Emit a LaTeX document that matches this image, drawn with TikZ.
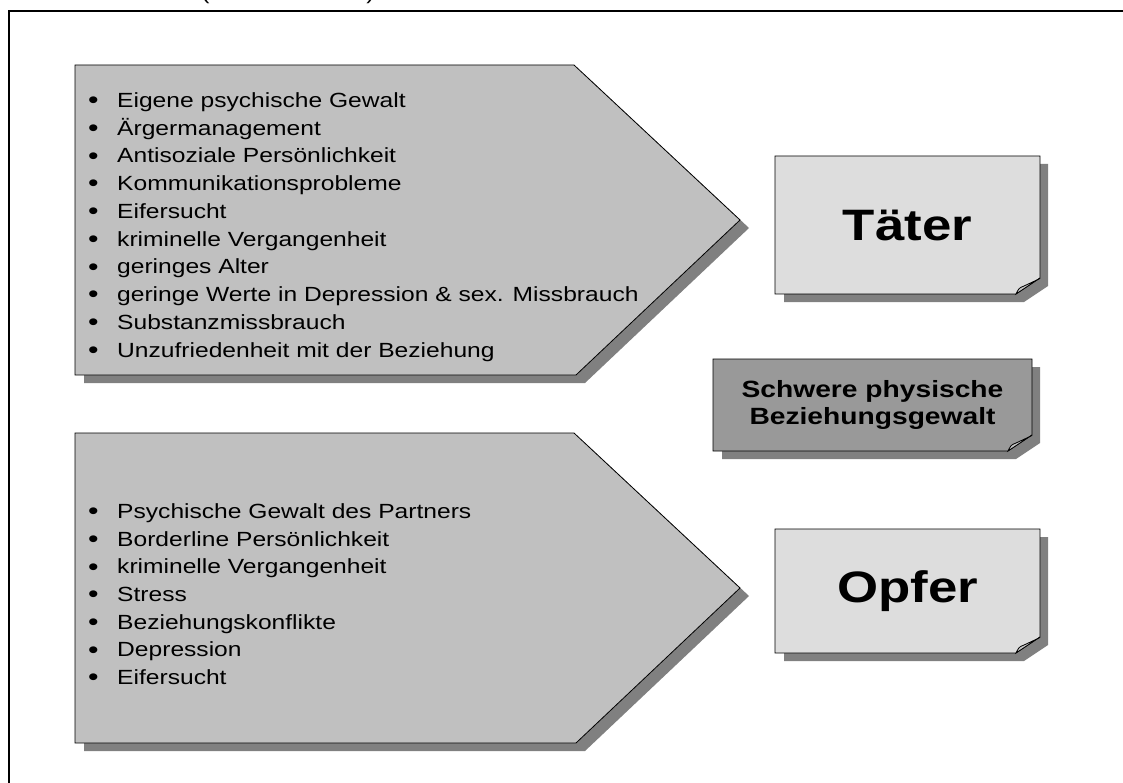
\documentclass[tikz,border=0pt]{standalone}
\usepackage{fontspec}
\setmainfont{Liberation Sans}[FakeStretch=1.2]
\definecolor{arrowfill}{HTML}{C0C0C0}
\definecolor{cardfill}{HTML}{DDDDDD}
\definecolor{keyfill}{HTML}{999999}
\definecolor{shadowgray}{HTML}{808080}
\definecolor{curlfill}{HTML}{C6C6C6}

% bullet mark in front of each list entry
\newcommand\listdot{\makebox[29pt][l]{\raisebox{-1.3pt}{\fontsize{25}{24}\selectfont •}}}

% Card with a drop shadow and a curled bottom-right corner.
% #1 name, #2 left, #3 top, #4 right, #5 bottom, #6 fill, #7 label style, #8 label
\newcommand\notecard[8]{%
  \fill[shadowgray] (#2+9,#3+8) -- (#4+8,#3+8) -- (#4+8,#5-16+8) -- (#4-24+8,#5+8) -- (#2+9,#5+8) -- cycle;
  \filldraw[fill=#6, cardline] (#2,#3) -- (#4,#3) -- (#4,#5-16) -- (#4-24,#5) -- (#2,#5) -- cycle;
  \filldraw[fill=curlfill, cardline] (#4-24,#5) .. controls (#4-21,#5-6) .. (#4-16,#5-8) -- (#4-1,#5-15) -- (#4,#5-16) -- cycle;
  \node[#7] (#1) at ({(#2+#4)/2},{(#3+#5)/2}) {#8};
}

\begin{document}
\begin{tikzpicture}[x=1pt,y=-1pt,
  cardline/.style={draw=black, line width=0.8pt},
  arrowbody/.style={fill=arrowfill, draw=black, line width=0.8pt},
  item/.style={anchor=base west, inner sep=0pt, font=\fontsize{20.5}{24}\selectfont},
  bigtitle/.style={inner sep=0pt, font=\bfseries\fontsize{44}{48}\selectfont},
  keytitle/.style={inner sep=0pt, align=center, font=\bfseries\fontsize{23.5}{27}\selectfont},
  paren/.style={anchor=base, inner sep=0pt, font=\fontsize{20.5}{24}\selectfont}]
\useasboundingbox (0,0) rectangle (1123,783);
\clip (0,0) rectangle (1123,783);

% outer frame and the caption brackets cut off above it
\draw[line width=2pt] (9,800) -- (9,11) -- (1130,11);
\node[paren] (lp) at (205.5,0) {(};
\node[paren] (rp) at (370.5,0) {)};

% upper arrow: perpetrator factors
\fill[shadowgray] (84,73) -- (583,73) -- (749,228) -- (585,383) -- (84,383) -- cycle;
\filldraw[arrowbody] (75,65) -- (574,65) -- (740,220) -- (576,375) -- (75,375) -- cycle;
\foreach \t [count=\i] in {Eigene psychische Gewalt, Ärgermanagement,
    Antisoziale Persönlichkeit, Kommunikationsprobleme, Eifersucht,
    kriminelle Vergangenheit, geringes Alter,
    geringe Werte in Depression \& sex. Missbrauch, Substanzmissbrauch,
    Unzufriedenheit mit der Beziehung}
  \node[item] (t\i) at (88,{107.3+27.75*(\i-1)}) {\listdot\t};

% lower arrow: victim factors
\fill[shadowgray] (84,441) -- (583,441) -- (749,596) -- (585,751) -- (84,751) -- cycle;
\filldraw[arrowbody] (75,433) -- (574,433) -- (740,588) -- (576,743) -- (75,743) -- cycle;
\foreach \t [count=\i] in {Psychische Gewalt des Partners, Borderline Persönlichkeit,
    kriminelle Vergangenheit, Stress, Beziehungskonflikte, Depression, Eifersucht}
  \node[item] (o\i) at (88,{518.3+27.7*(\i-1)}) {\listdot\t};

% cards on the right
\notecard{taeter}{775}{156}{1040}{294}{cardfill}{bigtitle}{Täter}
\notecard{gewalt}{713}{359}{1032}{451}{keyfill}{keytitle}{Schwere physische\\Beziehungsgewalt}
\notecard{opfer}{775}{529}{1040}{653}{cardfill}{bigtitle}{Opfer}
\end{tikzpicture}
\end{document}
